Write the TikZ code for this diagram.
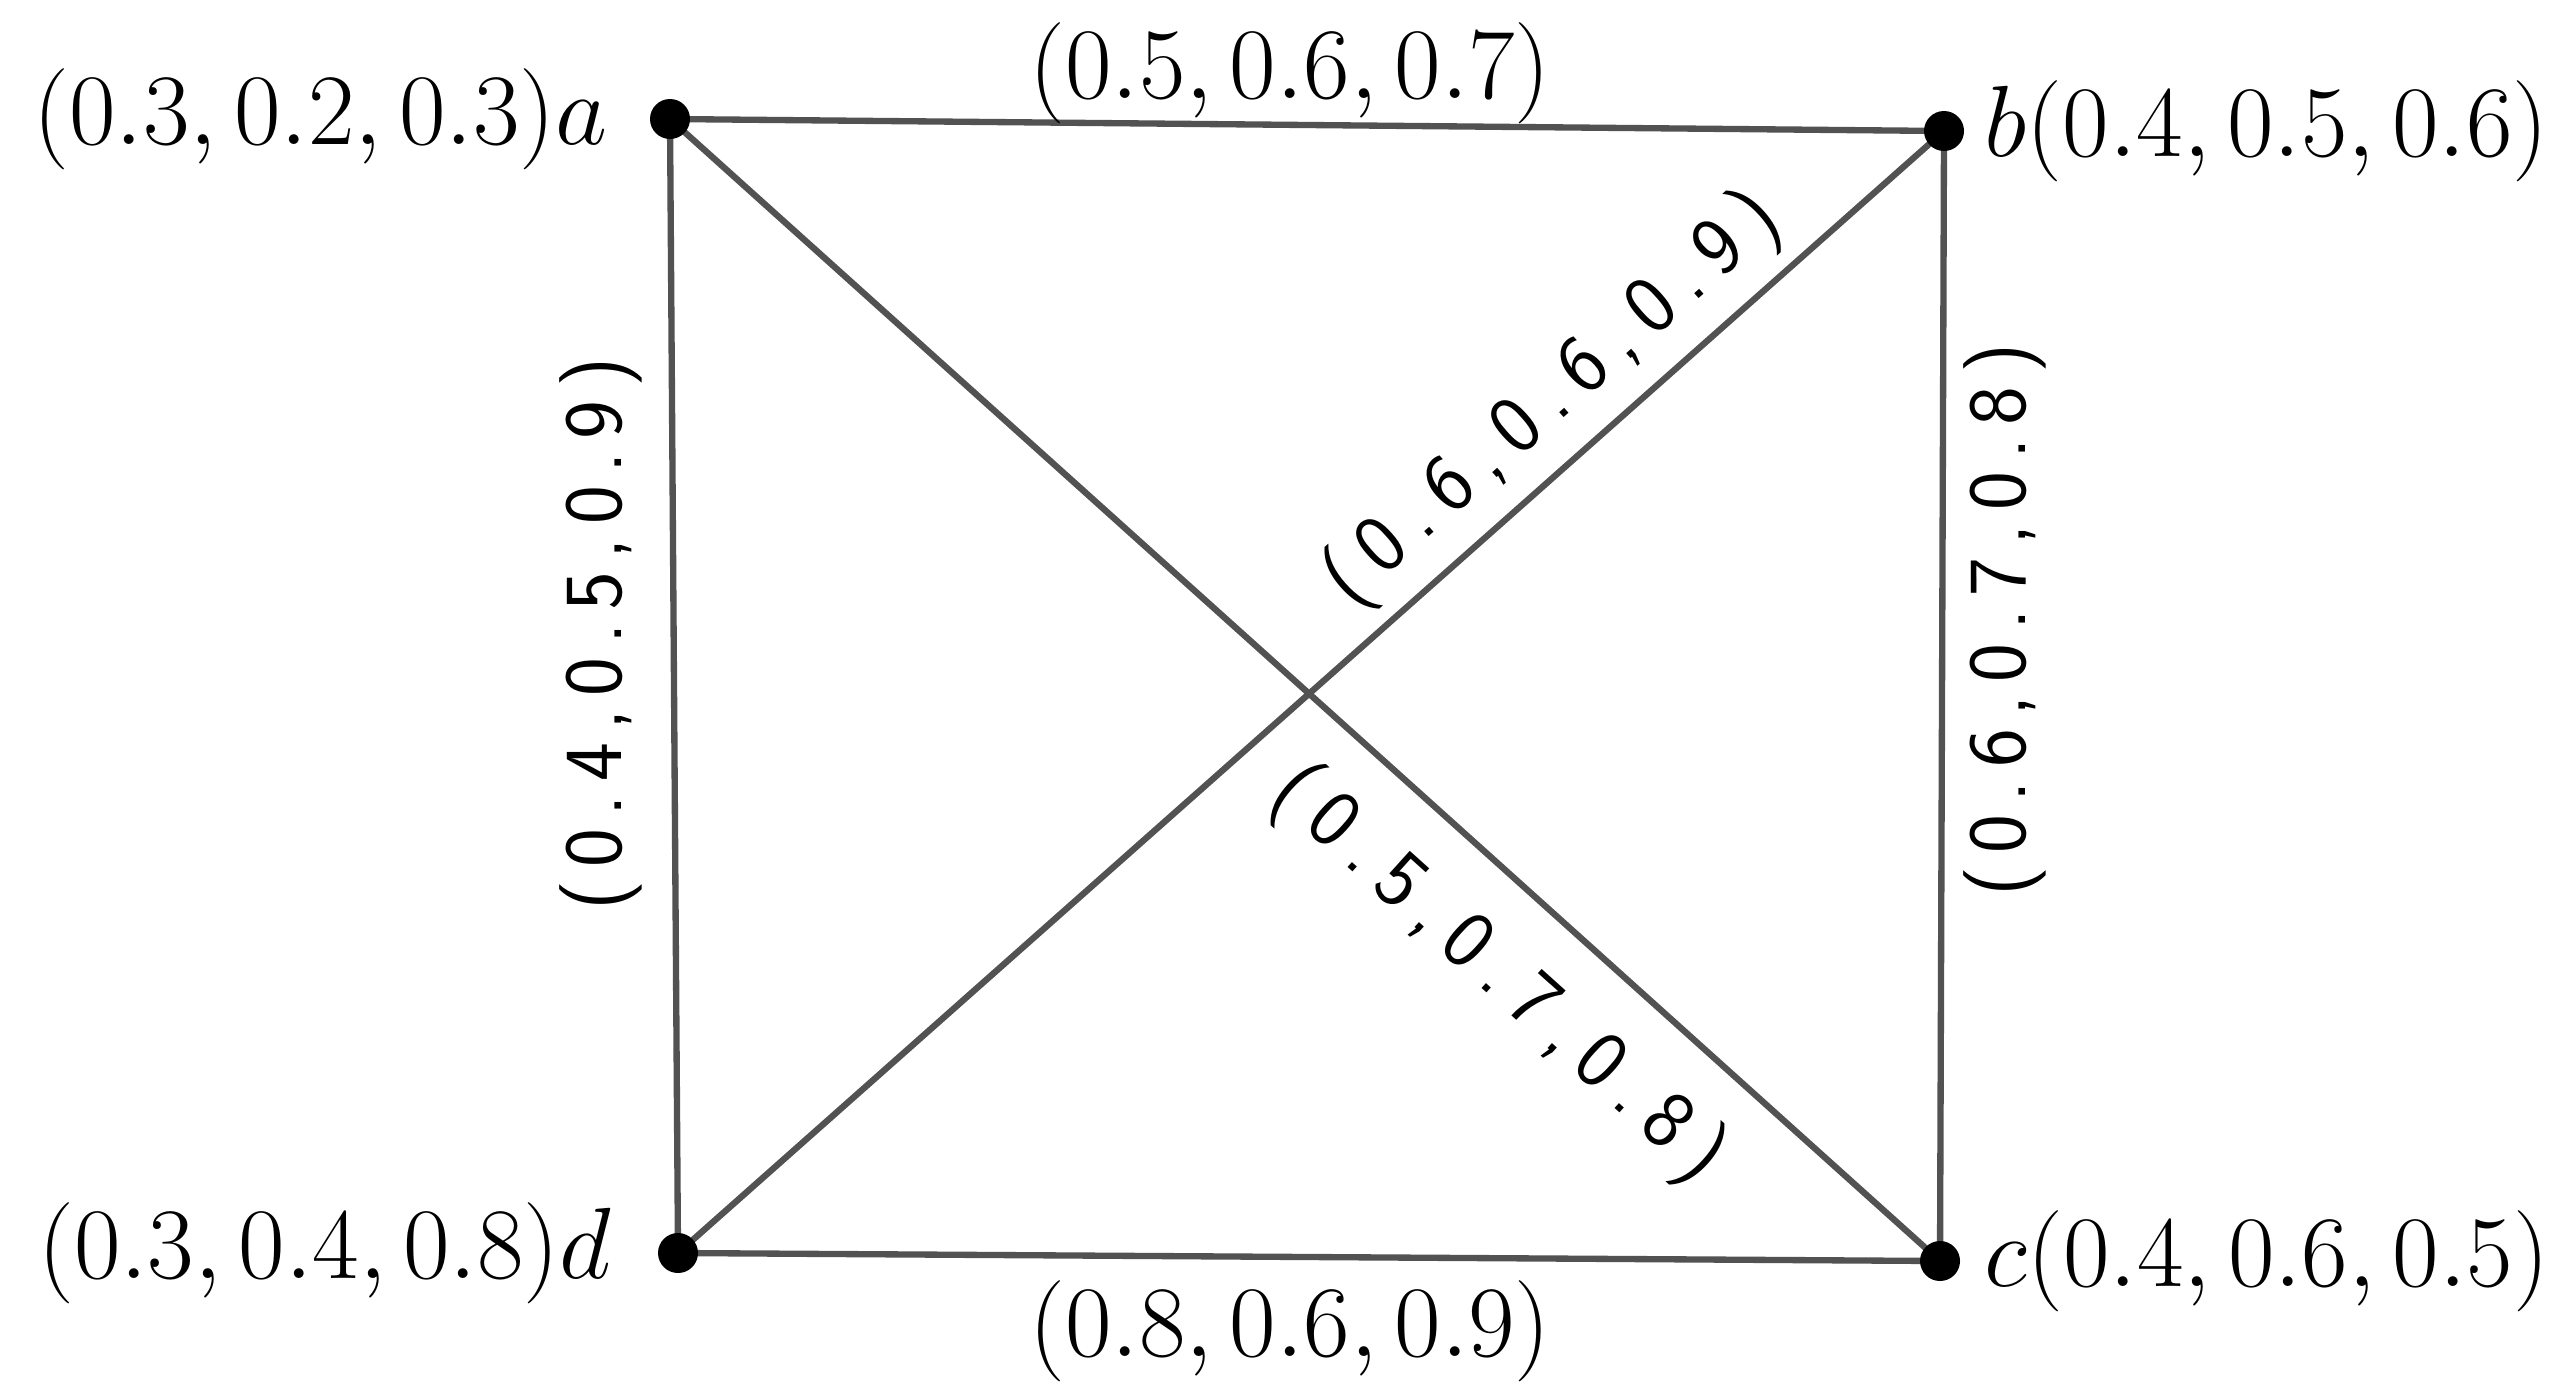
\documentclass[tikz,border=0pt]{standalone}
\usetikzlibrary{calc}
\newcommand{\lsp}{\kern3.6pt}
\newcommand{\dsp}{\kern4.2pt}
\newcommand{\scaledmath}[1]{\scalebox{1.1576}{$#1$}}
\begin{document}
\begin{tikzpicture}[x=1cm,y=1cm,
  vtx/.style={circle,fill=black,inner sep=0pt,minimum size=0.40cm},
  edge/.style={draw=black!68,line width=1.8pt},
  lbl/.style={inner sep=0pt,font=\fontsize{24.88}{30}\selectfont},
  elbl/.style={inner sep=0pt,font=\fontsize{24.88}{30}\selectfont},
  rlbl/.style={inner sep=0pt,font=\fontsize{23.5}{28}\selectfont\sffamily}]
\useasboundingbox (0,0) rectangle (25.61,-13.97);
\coordinate (pa) at (6.70,-1.19);
\coordinate (pb) at (19.44,-1.31);
\coordinate (pc) at (19.40,-12.61);
\coordinate (pd) at (6.78,-12.53);
\draw[edge] (pa) -- (pb);
\draw[edge] (pb) -- (pc);
\draw[edge] (pc) -- (pd);
\draw[edge] (pd) -- (pa);
\draw[edge] (pa) -- (pc);
\draw[edge] (pd) -- (pb);
\node[vtx] (a) at (pa) {};
\node[vtx] (b) at (pb) {};
\node[vtx] (c) at (pc) {};
\node[vtx] (d) at (pd) {};
\node[lbl,anchor=east] (la) at (6.08,-1.19) {\scaledmath{(0.3,0.2,0.3)a}};
\node[lbl,anchor=west] (lb) at (19.84,-1.31) {\scaledmath{b(0.4,0.5,0.6)}};
\node[lbl,anchor=west] (lc) at (19.84,-12.61) {\scaledmath{c(0.4,0.6,0.5)}};
\node[lbl,anchor=east] (ld) at (6.12,-12.53) {\scaledmath{(0.3,0.4,0.8)d}};
\node[elbl] (lab) at (12.90,-0.73) {\scaledmath{(0.5,0.6,0.7)}};
\node[elbl] (ldc) at (12.90,-13.31) {\scaledmath{(0.8,0.6,0.9)}};
\node[rlbl,rotate=90] (lad) at (6.01,-6.34) {(\lsp0\lsp.\lsp4\lsp,\lsp0\lsp.\lsp5\lsp,\lsp0\lsp.\lsp9\lsp)};
\node[rlbl,rotate=90] (lbc) at (20.05,-6.20) {(\lsp0\lsp.\lsp6\lsp,\lsp0\lsp.\lsp7\lsp,\lsp0\lsp.\lsp8\lsp)};
\node[rlbl,rotate=41.5] (ldb) at (15.53,-4.00) {(\dsp0\dsp.\dsp6\dsp,\dsp0\dsp.\dsp6\dsp,\dsp0\dsp.\dsp9\dsp)};
\node[rlbl,rotate=-42] (lac) at (14.98,-9.75) {(\dsp0\dsp.\dsp5\dsp,\dsp0\dsp.\dsp7\dsp,\dsp0\dsp.\dsp8\dsp)};
\end{tikzpicture}
\end{document}
